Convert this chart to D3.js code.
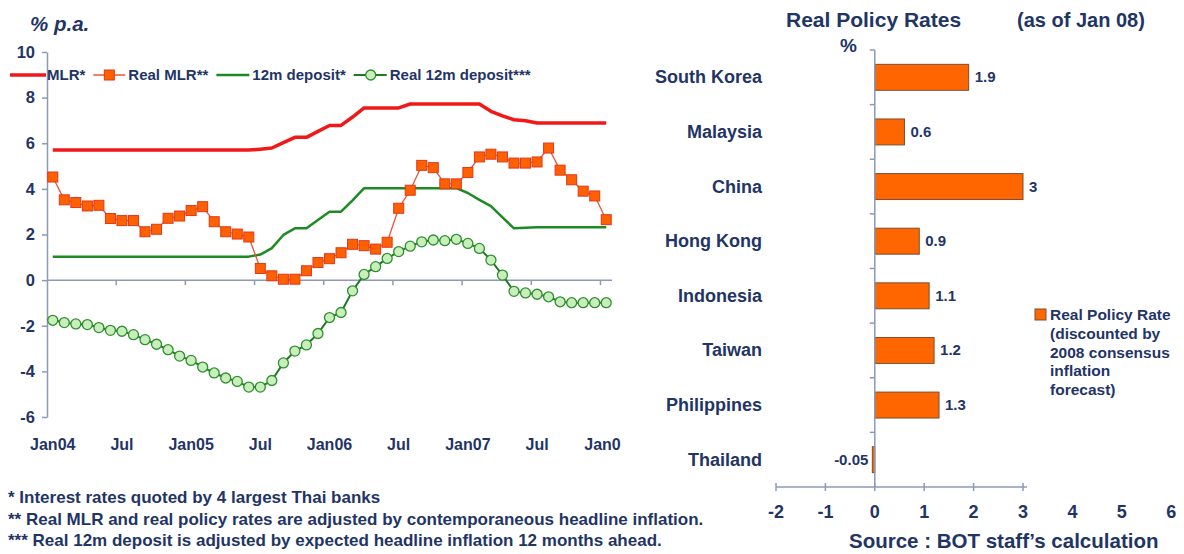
<!DOCTYPE html>
<html>
<head>
<meta charset="utf-8">
<script src="https://cdn.jsdelivr.net/npm/d3@7"></script>
<style>
  body { margin: 0; background: #ffffff; }
  text { font-family: "Liberation Sans", Arial, sans-serif; font-weight: bold; fill: #1f3566; }
</style>
</head>
<body>
<svg id="chart" width="1184" height="554"></svg>
<script>
// ---- Thai interest rates, monthly Jan 2004 - Jan 2008 (% p.a.) ----
const monthIndex = d3.range(49);
const mlr = [5.70,5.70,5.70,5.70,5.70,5.70,5.70,5.70,5.70,5.70,5.70,5.70,5.70,5.70,5.70,5.70,5.70,5.70,
             5.74,5.79,6.03,6.26,6.26,6.52,6.78,6.78,7.15,7.55,7.55,7.55,7.55,
             7.72,7.72,7.72,7.72,7.72,7.72,7.72,
             7.40,7.20,7.03,6.99,
             6.89,6.89,6.89,6.89,6.89,6.89,6.89];
const realMlr = [4.52,3.52,3.40,3.25,3.28,2.70,2.61,2.61,2.12,2.23,2.71,2.81,3.05,3.22,2.56,2.12,2.02,1.89,
                 0.51,0.19,0.04,0.04,0.41,0.77,0.94,1.20,1.57,1.51,1.36,1.66,3.15,3.94,5.03,4.93,4.22,4.22,
                 4.72,5.40,5.52,5.40,5.13,5.13,5.18,5.79,4.82,4.40,3.90,3.69,2.65];
const deposit12m = [1.03,1.03,1.03,1.03,1.03,1.03,1.03,1.03,1.03,1.03,1.03,1.03,1.03,1.03,1.03,1.03,1.03,1.03,
                    1.12,1.40,1.98,2.27,2.27,2.64,3.00,3.00,3.50,
                    4.03,4.03,4.03,4.03,4.03,4.03,4.03,4.03,4.03,
                    3.82,3.52,3.24,2.75,2.27,2.30,
                    2.32,2.32,2.32,2.32,2.32,2.32,2.32];
const realDeposit12m = [-1.76,-1.86,-1.92,-1.95,-2.08,-2.20,-2.24,-2.39,-2.61,-2.81,
                        -3.05,-3.33,-3.52,-3.81,-4.07,-4.29,-4.44,-4.69,-4.69,-4.40,
                        -3.63,-3.11,-2.84,-2.34,-1.64,-1.42,-0.47,0.25,0.59,0.95,
                        1.25,1.49,1.68,1.76,1.73,1.79,1.61,1.39,0.88,0.22,
                        -0.49,-0.56,-0.62,-0.73,-0.95,-0.99,-0.99,-0.99,-0.99];
const yTicksLeft = [10, 8, 6, 4, 2, 0, -2, -4, -6];
const xTickMonths = [0, 6, 12, 18, 24, 30, 36, 42, 48];
const xTickLabels = ["Jan04", "Jul", "Jan05", "Jul", "Jan06", "Jul", "Jan07", "Jul", "Jan0"];
const legendLabels = ["MLR*", "Real MLR**", "12m deposit*", "Real 12m deposit***"];

// ---- Real policy rates, as of Jan 2008 (%) ----
const countries = ["South Korea", "Malaysia", "China", "Hong Kong", "Indonesia", "Taiwan", "Philippines", "Thailand"];
const policyRates = [1.9, 0.6, 3, 0.9, 1.1, 1.2, 1.3, -0.05];
const xTicksRight = [-2, -1, 0, 1, 2, 3, 4, 5, 6];

const footnotes = [
  "* Interest rates quoted by 4 largest Thai banks",
  "** Real MLR and real policy rates are adjusted by contemporaneous headline inflation.",
  "*** Real 12m deposit is adjusted by expected headline inflation 12 months ahead."
];
const legendRight = ["Real Policy Rate", "(discounted by", "2008 consensus", "inflation", "forecast)"];

const AXIS = "#8c9ab4";
const C_MLR = "#f01818", C_RMLR = "#ff6000", C_RMLR_LINE = "#e8543c", C_DEP = "#1f8a24",
      C_RDEP = "#1b7d1f", C_RDEP_FILL = "#c8efbb", C_BAR = "#ff6600";

const svg = d3.select("#chart");

// =================== Left chart ===================
const L = svg.append("g");
const x = d3.scaleBand().domain(monthIndex).range([47, 612]).padding(0);
const y = d3.scaleLinear().domain([-6, 10]).range([417, 52]);
const cx = i => x(i) + x.bandwidth() / 2;

L.append("text").attr("x", 30).attr("y", 31).style("font-size", "20.5px").style("font-style", "italic").text("% p.a.");

// y axis
const yAxis = L.append("g").attr("transform", `translate(${x.range()[0]},0)`)
  .call(d3.axisLeft(y).tickValues(yTicksLeft).tickFormat(d => String(d))
    .tickSize(5).tickSizeOuter(0).tickPadding(7));
yAxis.select(".domain").attr("stroke", AXIS).attr("stroke-width", 1.5);
yAxis.selectAll(".tick line").attr("stroke", AXIS).attr("stroke-width", 1.5);
yAxis.selectAll(".tick text").style("font-size", "16.5px").attr("fill", "#1f3566")
  .style("font-family", "'Liberation Sans', Arial, sans-serif").style("font-weight", "bold");

// x axis along zero
const y0 = y(0);
L.append("line").attr("x1", x.range()[0]).attr("x2", x.range()[1]).attr("y1", y0).attr("y2", y0)
  .attr("stroke", AXIS).attr("stroke-width", 1.5);
L.selectAll("line.xt").data(xTickMonths.slice(1)).join("line").attr("class", "xt")
  .attr("x1", d => x(d)).attr("x2", d => x(d)).attr("y1", y0).attr("y2", y0 + 5)
  .attr("stroke", AXIS).attr("stroke-width", 1.5);
L.selectAll("text.xl").data(xTickMonths).join("text").attr("class", "xl")
  .attr("x", (d, i) => i === xTickMonths.length - 1 ? cx(d) - 22 : cx(d))
  .attr("y", 450).attr("text-anchor", (d, i) => i === xTickMonths.length - 1 ? "start" : "middle")
  .style("font-size", "16px").text((d, i) => xTickLabels[i]);

const line = d3.line().x((d, i) => cx(i)).y(d => y(d));

L.append("path").datum(mlr).attr("d", line).attr("fill", "none").attr("stroke", C_MLR)
  .attr("stroke-width", 3.5).attr("stroke-linejoin", "round");
L.append("path").datum(deposit12m).attr("d", line).attr("fill", "none").attr("stroke", C_DEP)
  .attr("stroke-width", 2.5).attr("stroke-linejoin", "round");
L.append("path").datum(realDeposit12m).attr("d", line).attr("fill", "none").attr("stroke", C_RDEP)
  .attr("stroke-width", 2);
L.selectAll("circle.rd").data(realDeposit12m).join("circle").attr("class", "rd")
  .attr("cx", (d, i) => cx(i)).attr("cy", d => y(d)).attr("r", 5)
  .attr("fill", C_RDEP_FILL).attr("stroke", "#2e8f2e").attr("stroke-width", 1.3);
L.append("path").datum(realMlr).attr("d", line).attr("fill", "none").attr("stroke", C_RMLR_LINE)
  .attr("stroke-width", 1.3);
L.selectAll("rect.rm").data(realMlr).join("rect").attr("class", "rm")
  .attr("x", (d, i) => cx(i) - 5).attr("y", d => y(d) - 5).attr("width", 10).attr("height", 10)
  .attr("fill", C_RMLR).attr("stroke", "#e0381c").attr("stroke-width", 1);

// legend
const lg = L.append("g").attr("transform", "translate(0,75)");
let lx = 10;
const legendItems = [
  {label: legendLabels[0], draw: g => g.append("line").attr("x1", 0).attr("x2", 36).attr("stroke", C_MLR).attr("stroke-width", 3.5), w: 37},
  {label: legendLabels[1], draw: g => { g.append("line").attr("x1", 0).attr("x2", 32).attr("stroke", C_RMLR_LINE).attr("stroke-width", 1.3);
      g.append("rect").attr("x", 11).attr("y", -5).attr("width", 10).attr("height", 10).attr("fill", C_RMLR).attr("stroke", "#e0381c"); }, w: 35},
  {label: legendLabels[2], draw: g => g.append("line").attr("x1", 0).attr("x2", 33).attr("stroke", C_DEP).attr("stroke-width", 2.5), w: 36},
  {label: legendLabels[3], draw: g => { g.append("line").attr("x1", 0).attr("x2", 33).attr("stroke", C_RDEP).attr("stroke-width", 2);
      g.append("circle").attr("cx", 17).attr("r", 5).attr("fill", C_RDEP_FILL).attr("stroke", "#2e8f2e").attr("stroke-width", 1.3); }, w: 36}
];
legendItems.forEach(item => {
  const g = lg.append("g").attr("transform", `translate(${lx},0)`);
  item.draw(g);
  const t = g.append("text").attr("x", item.w).attr("y", 5).style("font-size", "15px").text(item.label);
  lx += item.w + t.node().getComputedTextLength() + 8;
});

// footnotes
svg.selectAll("text.fn").data(footnotes).join("text").attr("class", "fn")
  .attr("x", 8).attr("y", (d, i) => 503 + i * 21.5).style("font-size", "17px").text(d => d);

// =================== Right chart ===================
const R = svg.append("g");
const xr = d3.scaleLinear().domain([-2, 3]).range([776, 1023]);
const yr = d3.scaleBand().domain(countries).range([50, 487]).paddingInner(0.525).paddingOuter(0.2625);
const step = yr.step();
const zeroX = xr(0);

R.append("text").attr("x", 786).attr("y", 27).style("font-size", "21px").text("Real Policy Rates");
R.append("text").attr("x", 1017).attr("y", 27).style("font-size", "20px").text("(as of Jan 08)");
R.append("text").attr("x", 840).attr("y", 52).style("font-size", "19px").text("%");

// bars
R.selectAll("rect.bar").data(policyRates).join("rect").attr("class", "bar")
  .attr("x", d => Math.min(xr(d), zeroX)).attr("width", d => Math.abs(xr(d) - zeroX))
  .attr("y", (d, i) => yr(countries[i])).attr("height", yr.bandwidth())
  .attr("fill", C_BAR).attr("stroke", "#7a4e30").attr("stroke-width", 1);

// value labels
R.selectAll("text.val").data(policyRates).join("text").attr("class", "val")
  .attr("x", d => d >= 0 ? xr(d) + 6 : xr(d) - 4)
  .attr("y", (d, i) => yr(countries[i]) + yr.bandwidth() / 2 + 5)
  .attr("text-anchor", d => d >= 0 ? "start" : "end")
  .style("font-size", "15px").text(d => d);

// category axis
const yTop = yr.range()[0], yBot = yr.range()[1];
R.append("line").attr("x1", zeroX).attr("x2", zeroX).attr("y1", yTop).attr("y2", yBot)
  .attr("stroke", AXIS).attr("stroke-width", 1.5);
R.selectAll("line.ct").data(d3.range(countries.length)).join("line").attr("class", "ct")
  .attr("x1", zeroX - 5).attr("x2", zeroX).attr("y1", d => yTop + d * step).attr("y2", d => yTop + d * step)
  .attr("stroke", AXIS).attr("stroke-width", 1.5);
R.selectAll("text.cat").data(countries).join("text").attr("class", "cat")
  .attr("x", 762).attr("y", d => yr(d) + yr.bandwidth() / 2 + 6)
  .attr("text-anchor", "end").style("font-size", "18px").text(d => d);

// value axis
R.append("line").attr("x1", xr(-2)).attr("x2", xr(3.08)).attr("y1", yBot).attr("y2", yBot)
  .attr("stroke", AXIS).attr("stroke-width", 1.5);
R.selectAll("line.vt").data(xTicksRight.filter(d => d <= 3)).join("line").attr("class", "vt")
  .attr("x1", d => xr(d)).attr("x2", d => xr(d)).attr("y1", yBot - 4).attr("y2", yBot + 4)
  .attr("stroke", AXIS).attr("stroke-width", 1.5);
R.selectAll("text.vl").data(xTicksRight).join("text").attr("class", "vl")
  .attr("x", d => xr(d)).attr("y", 518).attr("text-anchor", "middle")
  .style("font-size", "18px").text(d => String(d));

// legend
R.append("rect").attr("x", 1035).attr("y", 309).attr("width", 11).attr("height", 11)
  .attr("fill", C_BAR).attr("stroke", "#7a4e30");
R.selectAll("text.lr").data(legendRight).join("text").attr("class", "lr")
  .attr("x", 1050).attr("y", (d, i) => 320 + i * 18.8)
  .style("font-size", "15.5px").text(d => d);

R.append("text").attr("x", 849).attr("y", 548).style("font-size", "20.5px").text("Source : BOT staff\u2019s calculation");
</script>
</body>
</html>
